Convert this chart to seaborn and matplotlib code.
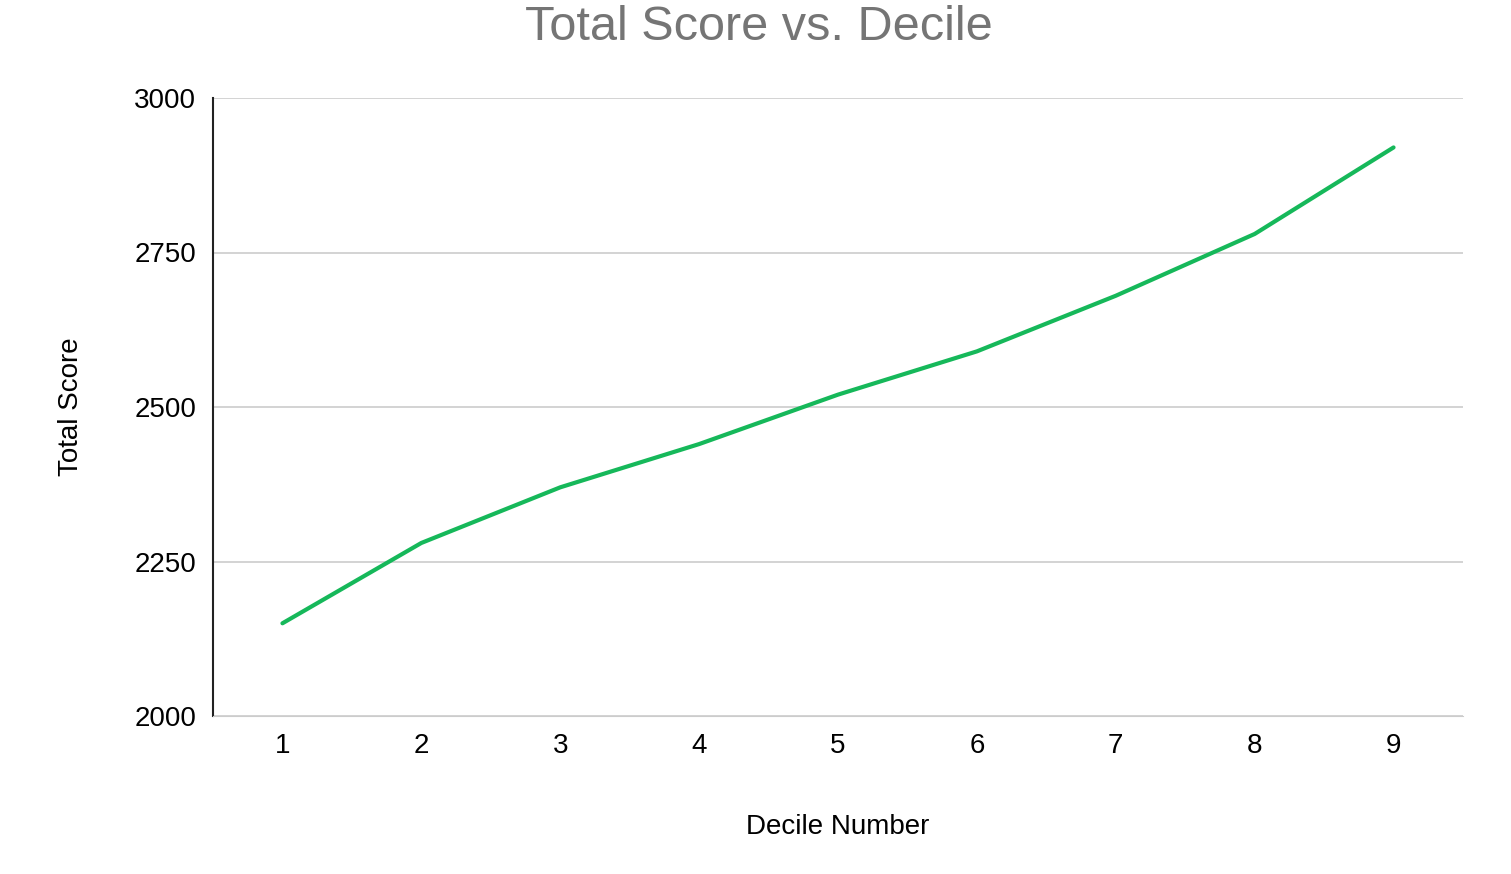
import seaborn as sns
import matplotlib.pyplot as plt
import pandas as pd

deciles = [1, 2, 3, 4, 5, 6, 7, 8, 9]
scores = [2150, 2280, 2370, 2440, 2520, 2590, 2680, 2780, 2920]

df = pd.DataFrame({"Decile": deciles, "Score": scores})

sns.set_style("white")
plt.rcParams['font.family'] = ['Liberation Sans', 'DejaVu Sans']

fig = plt.figure(figsize=(15.11, 8.74), dpi=100)
ax = fig.add_axes([213 / 1511, 1 - 716 / 874, 1250 / 1511, 618 / 874])

sns.lineplot(data=df, x="Decile", y="Score", color="#16b85a", linewidth=3, ax=ax)

ax.set_xlim(0.5, 9.5)
ax.set_ylim(2000, 3000)
ax.set_xticks(deciles)
ax.set_yticks([2000, 2250, 2500, 2750, 3000])
ax.yaxis.grid(True, color="#cccccc", linewidth=1.2)
ax.set_axisbelow(True)
for s in ["top", "right"]:
    ax.spines[s].set_visible(False)
ax.spines["bottom"].set_color("#cccccc")
ax.spines["left"].set_color("#222222")
ax.spines["left"].set_linewidth(1.5)
ax.tick_params(axis="both", labelsize=20, length=0, pad=12, labelcolor="black")

ax.set_xlabel("Decile Number", fontsize=20, labelpad=40, color="black")
ax.set_ylabel("Total Score", fontsize=20, labelpad=36, color="black")
fig.suptitle("Total Score vs. Decile", fontsize=35, color="#757575",
             x=0.502, y=1 - 27 / 874, va="center")

plt.savefig("out.png", dpi=100)
